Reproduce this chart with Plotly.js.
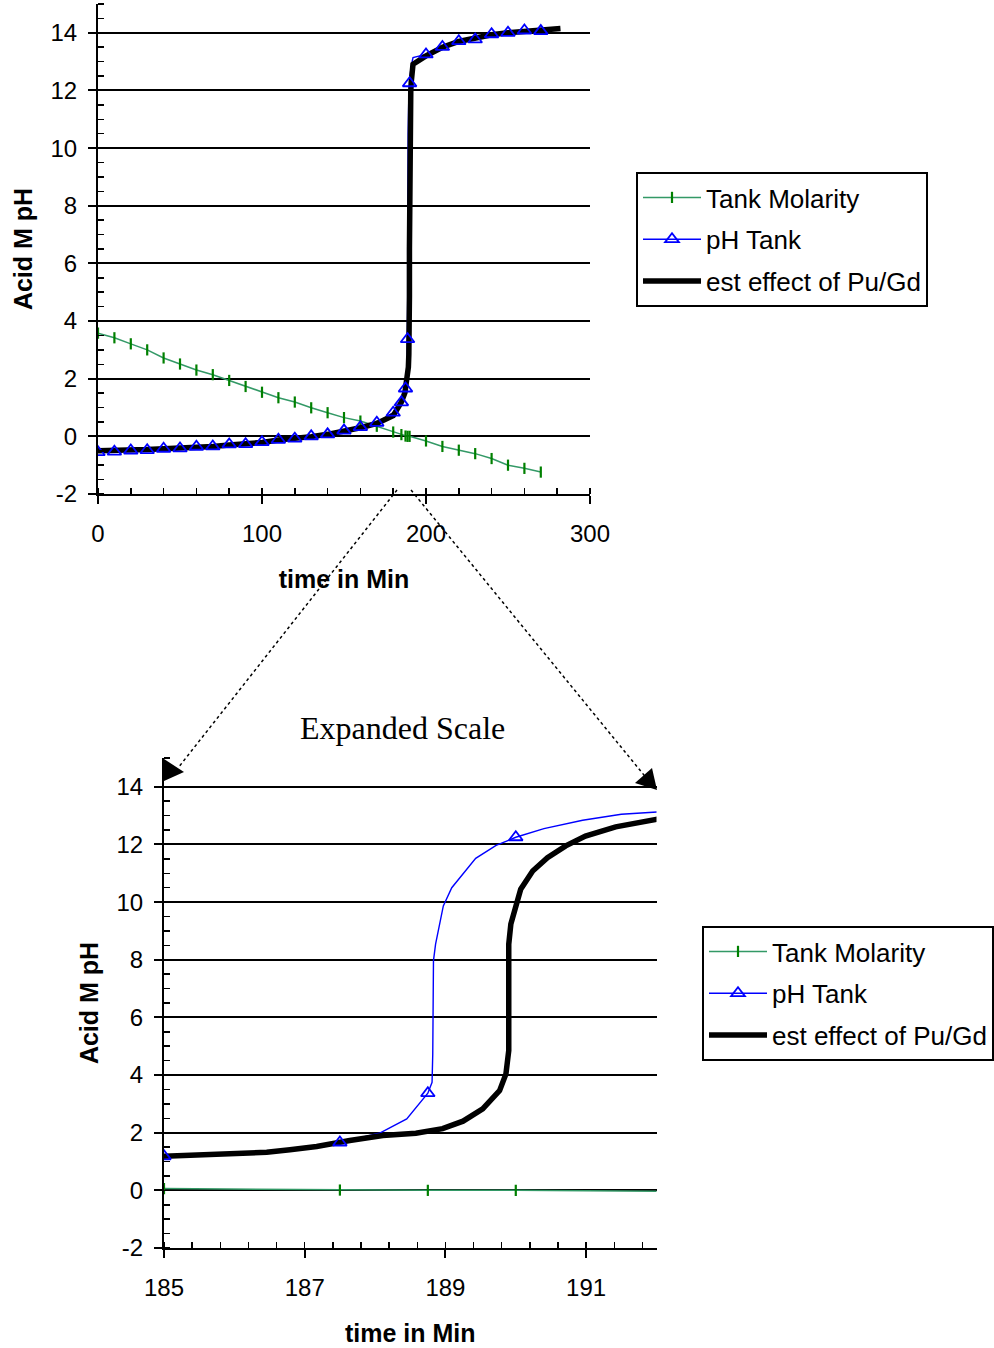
<!DOCTYPE html>
<html>
<head>
<meta charset="utf-8">
<script src="https://cdn.plot.ly/plotly-3.0.1.min.js"></script>
<style>html,body{margin:0;padding:0;background:#fff;}#chart{width:994px;height:1348px;}</style>
</head>
<body>
<div id="chart"></div>
<script>
// ---------------- data ----------------
// Tank Molarity (acid M) vs time in minutes
const molTime = [0,10,20,30,40,50,60,70,80,90,100,110,120,130,140,150,160,170,180,185,187.5,188.75,190,200,210,220,230,240,250,260,270];
const molVal  = [3.58,3.42,3.21,3.00,2.72,2.51,2.30,2.14,1.94,1.73,1.53,1.34,1.19,0.99,0.82,0.65,0.53,0.35,0.15,0.06,0.01,0.0,0.0,-0.16,-0.35,-0.48,-0.60,-0.77,-1.00,-1.11,-1.24];

// pH Tank, sampled points (drawn with triangle markers)
const phTime = [0,10,20,30,40,50,60,70,80,90,100,110,120,130,140,150,160,170,180,185,187.5,188.75,190,200,210,220,230,240,250,260,270];
const phVal  = [-0.55,-0.53,-0.49,-0.48,-0.43,-0.42,-0.36,-0.35,-0.28,-0.27,-0.20,-0.12,-0.08,0.0,0.07,0.20,0.32,0.47,0.82,1.18,1.66,3.37,12.25,13.25,13.51,13.71,13.77,13.95,14.00,14.08,14.06];

// pH Tank, intermediate curve points (visible on the expanded scale)
const phFineTime = [186,186.5,187,188.06,188.45,188.81,188.82,188.83,188.83,188.86,188.97,189.09,189.43,189.72,190.4,190.95,191.5,192.08];
const phFineVal  = [1.27,1.33,1.47,1.98,2.48,3.75,4.73,6.58,7.97,8.54,9.87,10.5,11.52,11.97,12.55,12.84,13.05,13.14];

// est effect of Pu/Gd
const estTime = [0,10,20,30,40,50,60,70,80,90,100,110,120,130,140,150,160,170,180,
                 185,185.37,185.79,186.19,186.46,186.79,187.17,187.64,188.11,188.58,188.96,189.25,189.53,189.77,189.86,189.90,189.90,189.90,189.93,190.07,190.24,190.45,190.71,190.99,191.42,192.08,
                 200,210,220,230,240,250,260,270,282];
const estVal  = [-0.50,-0.50,-0.47,-0.46,-0.43,-0.41,-0.37,-0.35,-0.30,-0.27,-0.21,-0.13,-0.08,-0.01,0.07,0.18,0.30,0.45,0.72,
                 1.19,1.25,1.26,1.29,1.32,1.41,1.52,1.73,1.90,1.98,2.14,2.40,2.83,3.46,4.04,4.85,6.50,8.54,9.24,10.45,11.08,11.54,11.95,12.29,12.61,12.91,
                 13.20,13.50,13.70,13.82,13.93,14.00,14.06,14.10,14.15];

const seriesNames = ['Tank Molarity','pH Tank','est effect of Pu/Gd'];
const yTickVals = [-2,0,2,4,6,8,10,12,14];
const yTickText = ['-2','0','2','4','6','8','10','12','14'];
const xTitle = 'time in Min';
const yTitle = 'Acid M pH';
const noteText = 'Expanded Scale';

// ---------------- layout helpers ----------------
const W = 994, H = 1348;
const PX = v => v / W;
const PY = v => 1 - v / H;

const SANS = 'Liberation Sans, Arial, sans-serif';
const SERIF = 'Liberation Serif, Times New Roman, serif';
const GREEN_LINE = '#339966', GREEN_MK = '#008000', BLUE = '#0000ff', BLACK = '#000000';

// full blue curve: sampled points + intermediate points, ordered by time (stable)
const phPairs = phTime.map((t,i) => [t, phVal[i]]).concat(phFineTime.map((t,i) => [t, phFineVal[i]]));
phPairs.sort((a,b) => a[0] - b[0]);
const phAllX = phPairs.map(p => p[0]);
const phAllY = phPairs.map(p => p[1]);

const blueMarker = {symbol: 'triangle-up-open', size: 12, color: BLUE, line: {color: BLUE, width: 1.8}};

function subplotTraces(xa, ya, leg) {
  return [
    {x: molTime, y: molVal, xaxis: xa, yaxis: ya, name: seriesNames[0], legend: leg, legendrank: 1,
     legendgroup: leg + 'a', mode: 'lines+markers', line: {color: GREEN_LINE, width: 1.5},
     marker: {symbol: 'line-ns-open', size: 8, color: GREEN_MK, line: {color: GREEN_MK, width: 2.2}}},
    {x: phAllX, y: phAllY, xaxis: xa, yaxis: ya, mode: 'lines', showlegend: false,
     line: {color: BLUE, width: 1.4}},
    {x: estTime, y: estVal, xaxis: xa, yaxis: ya, name: seriesNames[2], legend: leg, legendrank: 3,
     legendgroup: leg + 'c', mode: 'lines', line: {color: BLACK, width: 5.5}},
    {x: phTime, y: phVal, xaxis: xa, yaxis: ya, mode: 'markers', showlegend: false, marker: blueMarker},
    // legend entry for pH Tank (line + triangle)
    {x: [null], y: [null], xaxis: xa, yaxis: ya, name: seriesNames[1], legend: leg, legendrank: 2,
     legendgroup: leg + 'b', mode: 'lines+markers', line: {color: BLUE, width: 1.5}, marker: blueMarker}
  ];
}

const traces = subplotTraces('x', 'y', 'legend').concat(subplotTraces('x2', 'y2', 'legend2'));

const tickFont = {family: SANS, size: 24, color: BLACK};
const titleFont = {family: SANS, size: 25, color: BLACK, weight: 'bold'};

function xAxis(domain, range, dtick, tick0, minorD, anchor) {
  return {domain: domain, range: range, dtick: dtick, tick0: tick0, anchor: anchor,
    showline: true, linecolor: BLACK, linewidth: 2, ticks: 'outside', ticklen: 8, tickwidth: 2, tickcolor: BLACK,
    showgrid: false, zeroline: false, tickfont: tickFont, ticklabelstandoff: 9,
    minor: {ticks: 'inside', ticklen: 6, tickwidth: 1.5, tickcolor: BLACK, tickmode: 'linear', dtick: minorD, tick0: tick0, showgrid: false},
    title: {text: xTitle, font: titleFont, standoff: 25}, fixedrange: true};
}
function yAxis(domain, anchor) {
  return {domain: domain, range: [-2, 15], tickmode: 'array', tickvals: yTickVals, ticktext: yTickText, anchor: anchor,
    showline: true, linecolor: BLACK, linewidth: 2, ticks: 'outside', ticklen: 8, tickwidth: 2, tickcolor: BLACK,
    showgrid: true, gridcolor: BLACK, gridwidth: 2, zeroline: false, tickfont: tickFont, ticklabelstandoff: 6,
    minor: {ticks: 'inside', ticklen: 6, tickwidth: 1.5, tickcolor: BLACK, tickmode: 'linear', tick0: 0, dtick: 0.5, showgrid: false},
    title: {text: yTitle, font: titleFont, standoff: 11}, fixedrange: true};
}

const legendBase = {bgcolor: '#ffffff', bordercolor: BLACK, borderwidth: 2, xref: 'paper', yref: 'paper',
  xanchor: 'left', yanchor: 'top', font: {family: SANS, size: 26, color: BLACK},
  traceorder: 'grouped', tracegroupgap: 5, itemwidth: 58};

const dotLine = {type: 'line', xref: 'paper', yref: 'paper', line: {color: BLACK, width: 1.5, dash: 'dot'}};
const tri = pts => ({type: 'path', xref: 'paper', yref: 'paper', fillcolor: BLACK, line: {width: 0},
  path: 'M' + pts.map(p => PX(p[0]) + ',' + PY(p[1])).join(' L') + ' Z'});

const layout = {
  width: W, height: H, margin: {l: 0, r: 0, t: 0, b: 0},
  paper_bgcolor: '#ffffff', plot_bgcolor: 'rgba(0,0,0,0)',
  font: {family: SANS, color: BLACK},
  showlegend: true,
  xaxis: xAxis([PX(98), PX(590)], [0, 300], 100, 0, 20, 'y'),
  yaxis: yAxis([PY(494), PY(4)], 'x'),
  xaxis2: xAxis([PX(164), PX(656.5)], [185, 192], 2, 185, 0.4, 'y2'),
  yaxis2: yAxis([PY(1248), PY(758)], 'x2'),
  legend: Object.assign({}, legendBase, {x: PX(636), y: PY(172)}),
  legend2: Object.assign({}, legendBase, {x: PX(702), y: PY(926)}),
  annotations: [{text: noteText, xref: 'paper', yref: 'paper', x: PX(402), y: PY(728), showarrow: false,
    xanchor: 'center', yanchor: 'middle', font: {family: SERIF, size: 32, color: BLACK}}],
  shapes: [
    Object.assign({}, dotLine, {x0: PX(397), y0: PY(490), x1: PX(178), y1: PY(768)}),
    Object.assign({}, dotLine, {x0: PX(411), y0: PY(490), x1: PX(648), y1: PY(780)}),
    tri([[164, 759], [164, 781], [184, 772]]),
    tri([[652, 768], [635, 783], [657, 790]])
  ]
};

Plotly.newPlot('chart', traces, layout, {staticPlot: true, displayModeBar: false});
</script>
</body>
</html>
